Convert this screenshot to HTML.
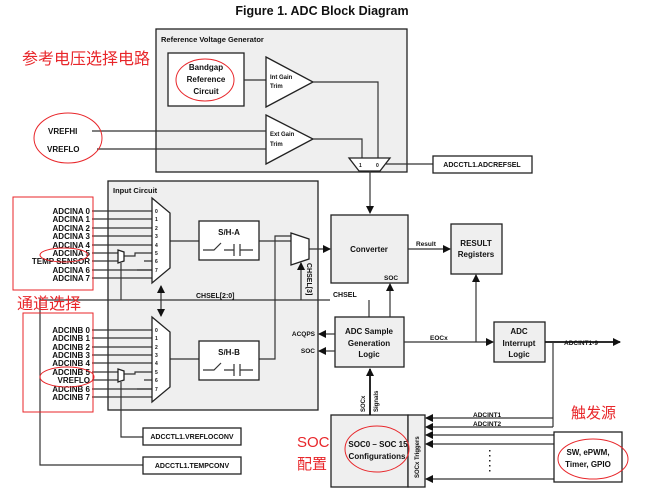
<!DOCTYPE html>
<html><head><meta charset="utf-8"><style>
body{margin:0;background:#fff}
svg{display:block}
text{font-family:"Liberation Sans",sans-serif;font-weight:bold;fill:#111}
.cn{font-family:"Liberation Sans","Noto Sans CJK SC",sans-serif;font-weight:normal;fill:#e8262a}
.b{fill:#efefef;stroke:#222;stroke-width:1.3}
.w{fill:#fff;stroke:#222;stroke-width:1.3}
.l{stroke:#333;stroke-width:1.2;fill:none}
.r{fill:none;stroke:#e8262a;stroke-width:1}
</style></head><body>
<svg width="653" height="492" viewBox="0 0 653 492">
<defs><marker id="a" markerWidth="8" markerHeight="8" refX="7" refY="4" orient="auto" markerUnits="userSpaceOnUse"><path d="M0,0 L8,4 L0,8z" fill="#111"/></marker></defs>
<text x="322" y="15" font-size="12.5" text-anchor="middle">Figure 1. ADC Block Diagram</text>
<rect class="b" x="156" y="29" width="251" height="143"/>
<text x="161" y="42" font-size="7.5">Reference Voltage Generator</text>
<rect class="w" x="168" y="53" width="76" height="53"/>
<text x="206" y="70" font-size="8" text-anchor="middle">Bandgap</text>
<text x="206" y="82" font-size="8" text-anchor="middle">Reference</text>
<text x="206" y="94" font-size="8" text-anchor="middle">Circuit</text>
<ellipse class="r" cx="205" cy="80" rx="29" ry="21"/>
<line class="l" x1="244" y1="80" x2="266" y2="80"/>
<path class="w" d="M266,57 L313,82 L266,107z"/>
<text x="270" y="79" font-size="6" font-weight="normal">Int Gain</text>
<text x="270" y="88" font-size="6" font-weight="normal">Trim</text>
<path class="w" d="M266,115 L313,139 L266,164z"/>
<text x="270" y="136" font-size="6" font-weight="normal">Ext Gain</text>
<text x="270" y="146" font-size="6" font-weight="normal">Trim</text>
<path class="l" d="M313,82 H378 V158"/>
<path class="l" d="M313,139 H362 V158"/>
<path class="w" d="M349,158 H390 L380,171 H359z"/>
<text x="359" y="167" font-size="5" font-weight="normal">1</text>
<text x="376" y="167" font-size="5" font-weight="normal">0</text>
<line class="l" x1="386" y1="164" x2="433" y2="164"/>
<rect class="w" x="433" y="156" width="99" height="17"/>
<text x="482" y="167" font-size="7" text-anchor="middle">ADCCTL1.ADCREFSEL</text>
<line class="l" x1="370" y1="171" x2="370" y2="213" marker-end="url(#a)"/>
<text x="48" y="134" font-size="8">VREFHI</text>
<text x="47" y="152" font-size="8">VREFLO</text>
<line class="l" x1="92" y1="131" x2="266" y2="131"/>
<line class="l" x1="97" y1="149" x2="266" y2="149"/>
<ellipse class="r" cx="68" cy="138" rx="34" ry="25"/>
<text class="cn" x="22" y="64" font-size="16">参考电压选择电路</text>
<rect class="b" x="108" y="181" width="210" height="229"/>
<text x="113" y="193" font-size="7.5">Input Circuit</text>
<g font-size="8" text-anchor="end">
<text x="90" y="214">ADCINA 0</text><text x="90" y="222">ADCINA 1</text><text x="90" y="231">ADCINA 2</text><text x="90" y="239">ADCINA 3</text><text x="90" y="248">ADCINA 4</text><text x="90" y="256">ADCINA 5</text><text x="90" y="264">TEMP SENSOR</text><text x="90" y="273">ADCINA 6</text><text x="90" y="281">ADCINA 7</text>
<text x="90" y="333">ADCINB 0</text><text x="90" y="341">ADCINB 1</text><text x="90" y="350">ADCINB 2</text><text x="90" y="358">ADCINB 3</text><text x="90" y="366">ADCINB 4</text><text x="90" y="375">ADCINB 5</text><text x="90" y="383">VREFLO</text><text x="90" y="392">ADCINB 6</text><text x="90" y="400">ADCINB 7</text>
</g>
<g class="l">
<path d="M92,211H152M92,219H152M92,228H152M92,236H152M92,245H152M92,253H118M92,261H118M92,270H152M92,278H152"/>
<path d="M124,256H135V253H152M144,261H152M137,270H152"/>
<path d="M92,330H152M92,338H152M92,347H152M92,355H152M92,363H152M92,372H118M92,380H118M92,389H152M92,397H152"/>
<path d="M124,374H135V372H152M144,380H152M137,389H152"/>
<path d="M121,263V300M121,382V437H143"/>
<path d="M40,298V465H143"/>
<path d="M170,241H199M259,241H291M170,359H199M259,359H275V236H291"/>
<path d="M40,300H330M369,300V317"/>
</g>
<path class="w" d="M118,250L124,252V261L118,263z"/>
<path class="w" d="M118,369L124,371V380L118,382z"/>
<path class="w" d="M152,198L170,213V268L152,283z"/>
<path class="w" d="M152,317L170,332V387L152,402z"/>
<g font-size="5" font-weight="normal"><text x="155" y="213">0</text><text x="155" y="221">1</text><text x="155" y="230">2</text><text x="155" y="238">3</text><text x="155" y="247">4</text><text x="155" y="255">5</text><text x="155" y="263">6</text><text x="155" y="272">7</text>
<text x="155" y="332">0</text><text x="155" y="340">1</text><text x="155" y="349">2</text><text x="155" y="357">3</text><text x="155" y="365">4</text><text x="155" y="374">5</text><text x="155" y="382">6</text><text x="155" y="391">7</text></g>
<line class="l" x1="161" y1="300" x2="161" y2="286" marker-end="url(#a)"/>
<line class="l" x1="161" y1="300" x2="161" y2="316" marker-end="url(#a)"/>
<rect class="w" x="199" y="221" width="60" height="39"/>
<text x="229" y="235" font-size="8" text-anchor="middle">S/H-A</text>
<path class="l" d="M203,250H214L221,243M224,250H234M234,244V256M240,244V256M240,250H253"/>
<rect class="w" x="199" y="341" width="60" height="39"/>
<text x="229" y="355" font-size="8" text-anchor="middle">S/H-B</text>
<path class="l" d="M203,370H214L221,363M224,370H234M234,364V376M240,364V376M240,370H253"/>
<path class="w" d="M291,233L309,239V259L291,265z"/>
<line class="l" x1="309" y1="249" x2="330" y2="249" marker-end="url(#a)"/>
<line class="l" x1="301" y1="300" x2="301" y2="263" marker-end="url(#a)"/>
<text transform="translate(307,263) rotate(90)" font-size="7">CHSEL[3]</text>
<text x="196" y="298" font-size="7">CHSEL[2:0]</text>
<text x="333" y="297" font-size="7">CHSEL</text>
<rect class="r" x="13" y="197" width="80" height="93"/>
<rect class="r" x="23" y="313" width="70" height="99"/>
<ellipse class="r" cx="64" cy="255" rx="24" ry="7"/>
<ellipse class="r" cx="67" cy="377" rx="27" ry="10"/>
<text class="cn" x="17" y="309" font-size="16">通道选择</text>
<rect class="w" x="143" y="428" width="98" height="17"/>
<text x="192" y="439" font-size="7" text-anchor="middle">ADCCTL1.VREFLOCONV</text>
<rect class="w" x="143" y="457" width="98" height="17"/>
<text x="192" y="468" font-size="7" text-anchor="middle">ADCCTL1.TEMPCONV</text>
<rect class="b" x="331" y="215" width="77" height="68"/>
<text x="369" y="252" font-size="8" text-anchor="middle">Converter</text>
<text x="384" y="280" font-size="6.5">SOC</text>
<line class="l" x1="408" y1="249" x2="450" y2="249" marker-end="url(#a)"/>
<text x="416" y="246" font-size="6.5">Result</text>
<rect class="b" x="451" y="224" width="51" height="50"/>
<text x="476" y="246" font-size="8" text-anchor="middle">RESULT</text>
<text x="476" y="257" font-size="8" text-anchor="middle">Registers</text>
<rect class="b" x="335" y="317" width="69" height="50"/>
<text x="369" y="334" font-size="8" text-anchor="middle">ADC Sample</text>
<text x="369" y="346" font-size="8" text-anchor="middle">Generation</text>
<text x="369" y="357" font-size="8" text-anchor="middle">Logic</text>
<line class="l" x1="390" y1="317" x2="390" y2="284" marker-end="url(#a)"/>
<line class="l" x1="335" y1="334" x2="319" y2="334" marker-end="url(#a)"/>
<line class="l" x1="335" y1="351" x2="319" y2="351" marker-end="url(#a)"/>
<text x="315" y="336" font-size="6.5" text-anchor="end">ACQPS</text>
<text x="315" y="353" font-size="6.5" text-anchor="end">SOC</text>
<line class="l" x1="404" y1="342" x2="493" y2="342" marker-end="url(#a)"/>
<text x="430" y="340" font-size="6.5">EOCx</text>
<line class="l" x1="476" y1="342" x2="476" y2="275" marker-end="url(#a)"/>
<rect class="b" x="494" y="322" width="51" height="40"/>
<text x="519" y="334" font-size="8" text-anchor="middle">ADC</text>
<text x="519" y="346" font-size="8" text-anchor="middle">Interrupt</text>
<text x="519" y="357" font-size="8" text-anchor="middle">Logic</text>
<line x1="545" y1="342" x2="620" y2="342" stroke="#111" stroke-width="1.8" marker-end="url(#a)"/>
<text x="564" y="345" font-size="6.5" font-weight="normal">ADCINT1-9</text>
<path class="l" d="M553,342V427"/>
<rect class="b" x="331" y="415" width="77" height="72"/>
<rect class="b" x="408" y="415" width="17" height="72"/>
<text x="378" y="447" font-size="8" text-anchor="middle">SOC0 – SOC 15</text>
<text x="377" y="459" font-size="8" text-anchor="middle">Configurations</text>
<ellipse class="r" cx="377" cy="449" rx="32" ry="23"/>
<text transform="translate(419,478) rotate(-90)" font-size="6">SOCx Triggers</text>
<line x1="370" y1="415" x2="370" y2="369" stroke="#111" stroke-width="1.8" marker-end="url(#a)"/>
<text transform="translate(365,412) rotate(-90)" font-size="6">SOCx</text>
<text transform="translate(378,412) rotate(-90)" font-size="6">Signals</text>
<g class="l">
<line x1="553" y1="418" x2="426" y2="418" marker-end="url(#a)"/>
<line x1="553" y1="427" x2="426" y2="427" marker-end="url(#a)"/>
<line x1="554" y1="435" x2="426" y2="435" marker-end="url(#a)"/>
<line x1="554" y1="444" x2="426" y2="444" marker-end="url(#a)"/>
<line x1="554" y1="479" x2="426" y2="479" marker-end="url(#a)"/>
</g>
<text x="473" y="417" font-size="6.5" font-weight="normal">ADCINT1</text>
<text x="473" y="426" font-size="6.5" font-weight="normal">ADCINT2</text>
<g fill="#222"><rect x="489" y="450" width="1.5" height="1.5"/><rect x="489" y="455" width="1.5" height="1.5"/><rect x="489" y="460" width="1.5" height="1.5"/><rect x="489" y="465" width="1.5" height="1.5"/><rect x="489" y="470" width="1.5" height="1.5"/></g>
<rect class="w" x="554" y="432" width="68" height="50"/>
<text x="588" y="455" font-size="8" text-anchor="middle">SW, ePWM,</text>
<text x="588" y="467" font-size="8" text-anchor="middle">Timer, GPIO</text>
<ellipse class="r" cx="593" cy="459" rx="35" ry="20"/>
<text class="cn" x="571" y="418" font-size="15">触发源</text>
<text class="cn" x="297" y="447" font-size="15">SOC</text>
<text class="cn" x="297" y="469" font-size="15">配置</text>
</svg>
</body></html>
